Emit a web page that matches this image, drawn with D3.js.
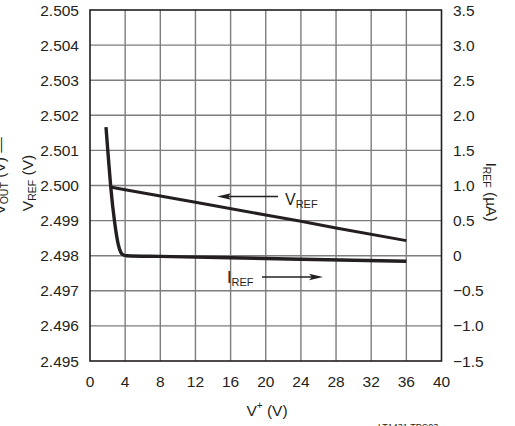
<!DOCTYPE html>
<html>
<head>
<meta charset="utf-8">
<script src="https://cdn.jsdelivr.net/npm/d3@7"></script>
<style>
  html, body { margin: 0; padding: 0; background: #fff; }
  svg { display: block; }
  text { font-family: "Liberation Sans", Arial, sans-serif; fill: #231f20; }
</style>
</head>
<body>
<svg id="chart" width="515" height="426"></svg>
<script>
// Supply voltage (V) sweep for the reference voltage curve
const vrefSupply = [2.3, 4, 12, 20, 24, 28, 36];
const vrefValues = [2.49996, 2.49988, 2.49952, 2.49916, 2.49898, 2.49879, 2.49843];

// Supply voltage (V) sweep for the reference pin current curve
const irefSupply = [1.82, 2.1, 2.36, 2.8, 3.2, 3.5, 3.8, 4.2, 8, 16, 24, 36];
const irefValues = [1.83, 1.38, 0.98, 0.48, 0.17, 0.05, 0.01, 0.0, -0.01, -0.03, -0.05, -0.08];

// Axis ticks
const xTicks = [0, 4, 8, 12, 16, 20, 24, 28, 32, 36, 40];
const vTicks = [2.495, 2.496, 2.497, 2.498, 2.499, 2.500, 2.501, 2.502, 2.503, 2.504, 2.505];
const iTicks = [-1.5, -1.0, -0.5, 0, 0.5, 1.0, 1.5, 2.0, 2.5, 3.0, 3.5];
const iTickLabels = ["\u22121.5", "\u22121.0", "\u22120.5", "0", "0.5", "1.0", "1.5", "2.0", "2.5", "3.0", "3.5"];

const svg = d3.select("#chart");
const plotL = 90, plotR = 441.5, plotT = 10, plotB = 361;
const ink = "#231f20";

const x = d3.scaleLinear().domain([0, 40]).range([plotL, plotR]);
const yV = d3.scaleLinear().domain([2.495, 2.505]).range([plotB, plotT]);
const yI = d3.scaleLinear().domain([-1.5, 3.5]).range([plotB, plotT]);

// Grid
const grid = svg.append("g");
grid.selectAll(".gx").data(xTicks.slice(1, -1)).join("line")
  .attr("x1", d => x(d)).attr("x2", d => x(d))
  .attr("y1", plotT).attr("y2", plotB)
  .attr("stroke", "#7d7d7d").attr("stroke-width", 1.4);
grid.selectAll(".gy").data(vTicks.slice(1, -1)).join("line")
  .attr("y1", d => yV(d)).attr("y2", d => yV(d))
  .attr("x1", plotL).attr("x2", plotR)
  .attr("stroke", "#7d7d7d").attr("stroke-width", 1.4);

// Frame
svg.append("rect")
  .attr("x", plotL).attr("y", plotT)
  .attr("width", plotR - plotL).attr("height", plotB - plotT)
  .attr("fill", "none").attr("stroke", ink).attr("stroke-width", 1.6);

// Tick labels
const fs = 15.5;
svg.append("g").selectAll("text").data(vTicks).join("text")
  .attr("x", 79).attr("y", d => yV(d) + 5.5)
  .attr("text-anchor", "end").attr("font-size", fs)
  .text(d => d3.format(".3f")(d));

svg.append("g").selectAll("text").data(iTicks).join("text")
  .attr("x", 453).attr("y", d => yI(d) + 5.5)
  .attr("text-anchor", "start").attr("font-size", fs)
  .text((d, i) => iTickLabels[i]);

svg.append("g").selectAll("text").data(xTicks).join("text")
  .attr("x", d => x(d)).attr("y", 387)
  .attr("text-anchor", "middle").attr("font-size", fs)
  .text(d => d);

// Axis titles
const xt = svg.append("text").attr("x", 267).attr("y", 416)
  .attr("text-anchor", "middle").attr("font-size", fs);
xt.append("tspan").text("V");
xt.append("tspan").attr("font-size", 10).attr("dy", -7).text("+");
xt.append("tspan").attr("dy", 7).text(" (V)");

const yl = svg.append("text")
  .attr("transform", "translate(33,183) rotate(-90)")
  .attr("text-anchor", "middle").attr("font-size", fs);
yl.append("tspan").text("V");
yl.append("tspan").attr("font-size", 10.5).attr("dy", 3).text("REF");
yl.append("tspan").attr("dy", -3).text(" (V)");

// clipped label fragment at the far left edge
const yl2 = svg.append("text")
  .attr("transform", "translate(5,176) rotate(-90)")
  .attr("text-anchor", "middle").attr("font-size", fs);
yl2.append("tspan").text("V");
yl2.append("tspan").attr("font-size", 10.5).attr("dy", 3).text("OUT");
yl2.append("tspan").attr("dy", -3).text(" (V) \u2014");

const yr = svg.append("text")
  .attr("transform", "translate(486,192) rotate(90)")
  .attr("text-anchor", "middle").attr("font-size", fs);
yr.append("tspan").text("I");
yr.append("tspan").attr("font-size", 10.5).attr("dy", 3).text("REF");
yr.append("tspan").attr("dy", -3).text(" (\u00b5A)");

// Curves
const lineV = d3.line().x(d => x(d[0])).y(d => yV(d[1]));
const lineI = d3.line().x(d => x(d[0])).y(d => yI(d[1])).curve(d3.curveMonotoneX);

svg.append("path")
  .datum(vrefSupply.map((s, i) => [s, vrefValues[i]]))
  .attr("d", lineV).attr("fill", "none")
  .attr("stroke", ink).attr("stroke-width", 3);

svg.append("path")
  .datum(irefSupply.map((s, i) => [s, irefValues[i]]))
  .attr("d", lineI).attr("fill", "none")
  .attr("stroke", ink).attr("stroke-width", 3.4).attr("stroke-linejoin", "round");

// Curve callouts with arrows
function arrow(x1, x2, y) {
  const dir = Math.sign(x2 - x1);
  svg.append("line").attr("x1", x1).attr("x2", x2 - dir * 8)
    .attr("y1", y).attr("y2", y).attr("stroke", ink).attr("stroke-width", 1.3);
  svg.append("path")
    .attr("d", `M${x2},${y} L${x2 - dir * 14},${y - 3.2} L${x2 - dir * 11},${y} L${x2 - dir * 14},${y + 3.2} Z`)
    .attr("fill", ink);
}

arrow(278, 217, 196.5);
const lv = svg.append("text").attr("x", 285).attr("y", 205).attr("font-size", 16);
lv.append("tspan").text("V");
lv.append("tspan").attr("font-size", 11).attr("dy", 3).text("REF");

arrow(262, 323, 277);
const li = svg.append("text").attr("x", 227).attr("y", 283).attr("font-size", 16);
li.append("tspan").text("I");
li.append("tspan").attr("font-size", 11).attr("dy", 3).text("REF");

// Figure code
svg.append("text").attr("x", 378).attr("y", 430).attr("font-size", 9).attr("fill", "#444")
  .text("LT1431 TPC03");
</script>
</body>
</html>
